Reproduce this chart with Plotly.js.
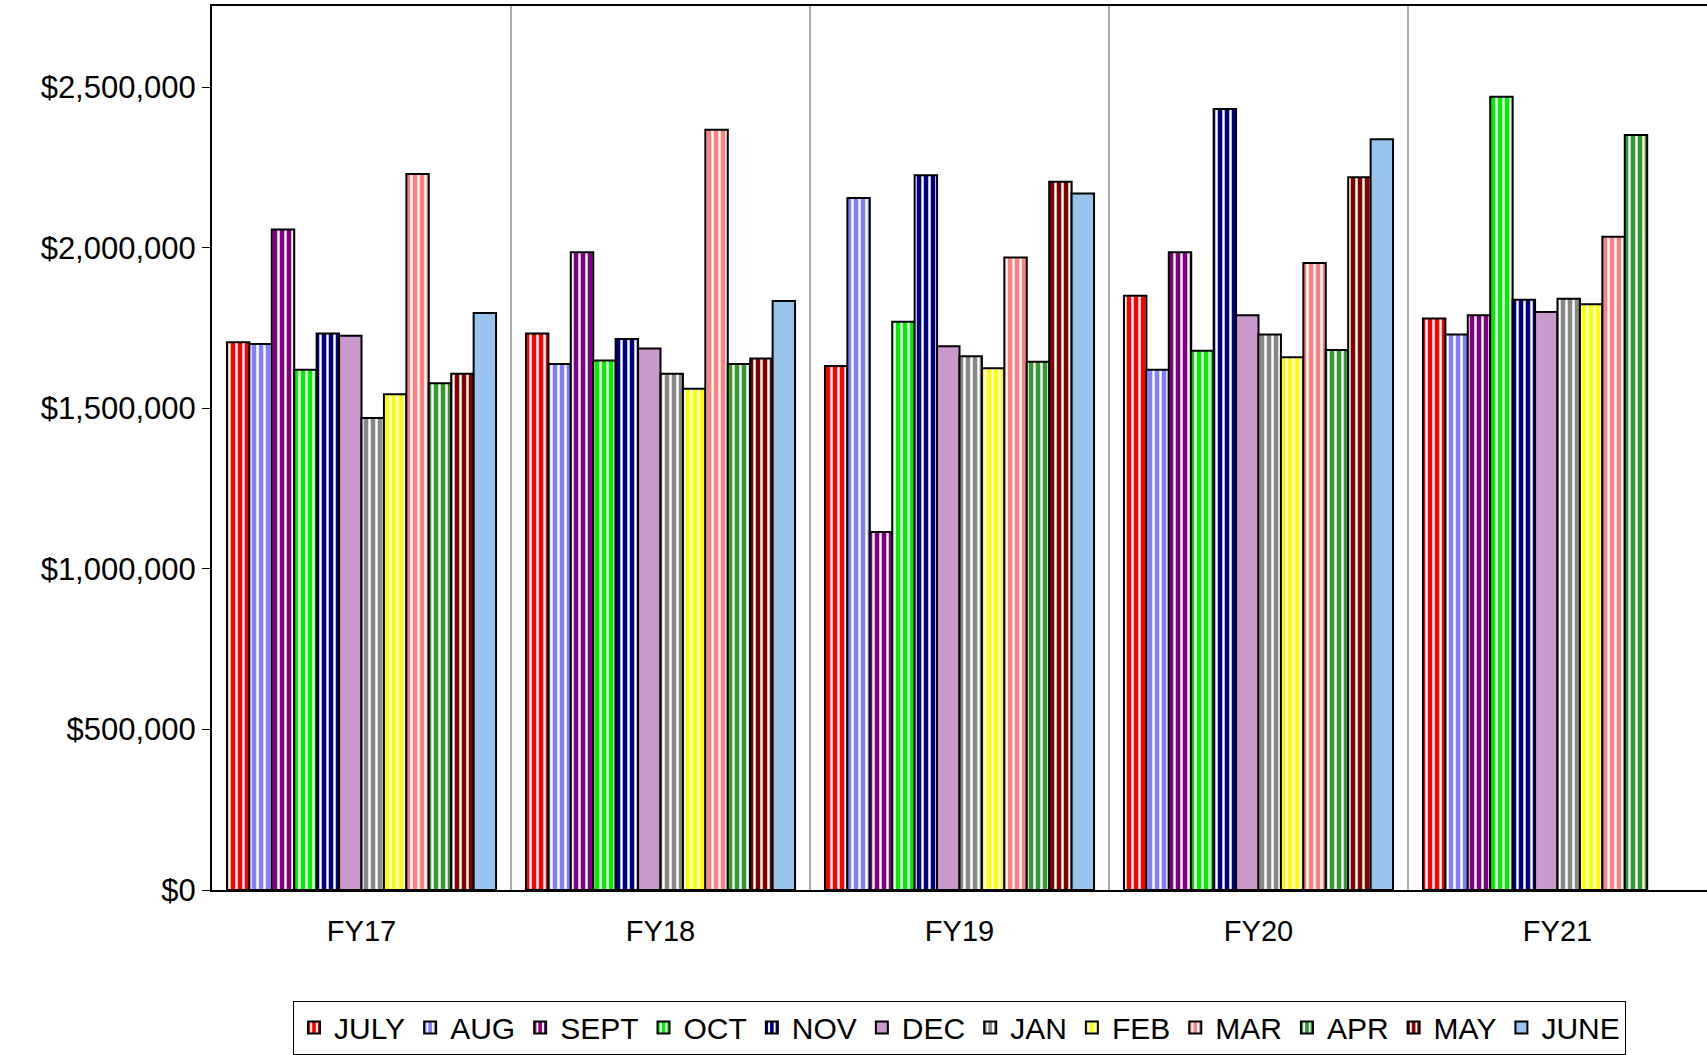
<!DOCTYPE html><html><head><script src="https://cdn.plot.ly/plotly-3.0.1.min.js"></script>
<style>body{margin:0}</style></head><body><div id="c" style="width:1707px;height:1055px"></div><script>
const years=["FY17","FY18","FY19","FY20","FY21"];
const months=["JULY","AUG","SEPT","OCT","NOV","DEC","JAN","FEB","MAR","APR","MAY","JUNE"];
const JULY=[1706000,1733000,1632000,1851000,1780000];
const AUG=[1700000,1638000,2155000,1620000,1730000];
const SEPT=[2057000,1986000,1115000,1986000,1790000];
const OCT=[1620000,1649000,1770000,1679000,2470000];
const NOV=[1733000,1716000,2226000,2432000,1838000];
const DEC=[1726000,1686000,1693000,1790000,1800000];
const JAN=[1470000,1608000,1662000,1730000,1841000];
const FEB=[1544000,1561000,1625000,1659000,1824000];
const MAR=[2230000,2368000,1970000,1953000,2034000];
const APR=[1578000,1638000,1645000,1682000,2351000];
const MAY=[1608000,1655000,2206000,2220000,null];
const JUNE=[1797000,1834000,2169000,2338000,null];
const vals=[JULY,AUG,SEPT,OCT,NOV,DEC,JAN,FEB,MAR,APR,MAY,JUNE];
const colors=["#ff0000","#8080ff","#800080","#00ee00","#000080","#cc99cc","#888888","#ffff00","#ff8080","#339933","#800000","#99c4ee"];
const solid=["DEC","JUNE"];
const data=months.map((m,i)=>({type:"bar",name:m,x:years,y:vals[i],
 marker:{color:colors[i],line:{color:"#000",width:2},
 pattern:solid.includes(m)?{shape:""}:{shape:"|",fillmode:"replace",bgcolor:colors[i],fgcolor:"#ffffff",size:7,solidity:0.35}}}));
const shapes=[0.5,1.5,2.5,3.5].map(x=>({type:"line",xref:"x",yref:"paper",x0:x,x1:x,y0:0,y1:1,line:{color:"#555",width:1}}));
Plotly.newPlot("c",data,{
 width:1707,height:1055,margin:{l:212,r:0,t:6,b:162},
 paper_bgcolor:"#fff",plot_bgcolor:"#fff",showlegend:true,
 font:{family:"Liberation Sans, Arial",size:29,color:"#000"},
 bargap:0.1,bargroupgap:0,shapes:shapes,
 xaxis:{showline:true,linecolor:"#000",linewidth:2,ticks:"",mirror:true,ticklabelstandoff:14},
 yaxis:{range:[0,2753000],tickvals:[0,500000,1000000,1500000,2000000,2500000],
  ticktext:["$0","$500,000","$1,000,000","$1,500,000","$2,000,000","$2,500,000"],tickfont:{size:31},
  showgrid:false,showline:true,linecolor:"#000",linewidth:2,ticks:"outside",ticklen:8,tickcolor:"#000",zeroline:false},
 legend:{orientation:"h",x:0.5,xanchor:"center",y:-0.125,yanchor:"top",bordercolor:"#000",borderwidth:1,font:{size:30},itemwidth:30,tracegroupgap:0}
},{displayModeBar:false});
</script></body></html>
